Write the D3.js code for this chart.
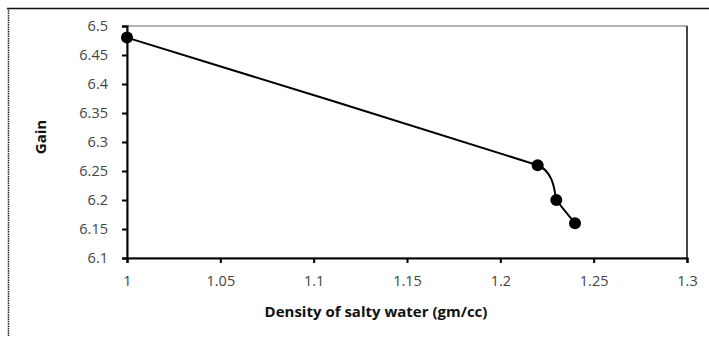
<!DOCTYPE html>
<html>
<head>
<meta charset="utf-8">
<script src="https://cdn.jsdelivr.net/npm/d3@7"></script>
<style>
  body { margin: 0; background: #fff; }
  svg { display: block; }
  text { font-family: "Open Sans", "DejaVu Sans", sans-serif; }
</style>
</head>
<body>
<svg id="chart" width="709" height="337"></svg>
<script>
// data
const density = [1, 1.22, 1.23, 1.24];
const gain = [6.48, 6.26, 6.2, 6.16];
const xTicks = [1, 1.05, 1.1, 1.15, 1.2, 1.25, 1.3];
const yTicks = [6.1, 6.15, 6.2, 6.25, 6.3, 6.35, 6.4, 6.45, 6.5];

const svg = d3.select("#chart");
const margin = { top: 26, right: 22, bottom: 79, left: 127 };
const width = 709 - margin.left - margin.right;
const height = 337 - margin.top - margin.bottom;

// outer frame (top solid, left dotted)
svg.append("line")
  .attr("x1", 7).attr("x2", 709).attr("y1", 8.5).attr("y2", 8.5)
  .attr("stroke", "#111").attr("stroke-width", 1.5);
svg.append("line")
  .attr("x1", 8.5).attr("x2", 8.5).attr("y1", 8).attr("y2", 337)
  .attr("stroke", "#222").attr("stroke-width", 1.5)
  .attr("stroke-dasharray", "1.5,0.8");

const g = svg.append("g").attr("transform", `translate(${margin.left},${margin.top})`);

const x = d3.scaleLinear().domain([1, 1.3]).range([0, width]);
const y = d3.scaleLinear().domain([6.1, 6.5]).range([height, 0]);

// plot area border
g.append("rect")
  .attr("x", 0).attr("y", 0).attr("width", width).attr("height", height)
  .attr("fill", "none").attr("stroke", "#666").attr("stroke-width", 1);
g.append("line")
  .attr("x1", width).attr("x2", width).attr("y1", 0).attr("y2", height)
  .attr("stroke", "#222").attr("stroke-width", 1.5);

// axes
const fmt = d => String(+d.toFixed(2));
const xAxis = d3.axisBottom(x).tickValues(xTicks).tickSize(5).tickPadding(13).tickFormat(fmt);
const yAxis = d3.axisLeft(y).tickValues(yTicks).tickSize(5).tickPadding(14).tickFormat(fmt);

g.append("g").attr("transform", `translate(0,${height})`).call(xAxis)
  .call(a => {
    a.select(".domain").attr("stroke", "#000").attr("stroke-width", 2);
    a.selectAll(".tick line").attr("stroke", "#000").attr("stroke-width", 2);
    a.selectAll(".tick text").attr("fill", "#444").attr("font-size", 14.5);
  });
g.append("g").call(yAxis)
  .call(a => {
    a.select(".domain").attr("stroke", "#000").attr("stroke-width", 2);
    a.selectAll(".tick line").attr("stroke", "#000").attr("stroke-width", 2);
    a.selectAll(".tick text").attr("fill", "#444").attr("font-size", 14.5);
  });

// smoothed line (Excel-like smoothing, short tangents to avoid overshoot)
const pts = density.map((d, i) => [d, gain[i]]);
const line = d3.line()
  .x(d => x(d[0]))
  .y(d => y(d[1]))
  .curve(d3.curveCardinal.tension(0.75));

g.append("path")
  .datum(pts)
  .attr("fill", "none")
  .attr("stroke", "#000")
  .attr("stroke-width", 2)
  .attr("d", line);

g.selectAll(".pt")
  .data(pts)
  .enter().append("circle")
  .attr("class", "pt")
  .attr("cx", d => x(d[0]))
  .attr("cy", d => y(d[1]))
  .attr("r", 6)
  .attr("fill", "#000");

// titles
svg.append("text")
  .attr("x", 376).attr("y", 317)
  .attr("text-anchor", "middle")
  .attr("font-size", 15).attr("font-weight", "bold").attr("fill", "#111")
  .text("Density of salty water (gm/cc)");

svg.append("text")
  .attr("transform", "translate(46,137) rotate(-90)")
  .attr("text-anchor", "middle")
  .attr("font-size", 15).attr("font-weight", "bold").attr("fill", "#111")
  .text("Gain");
</script>
</body>
</html>
